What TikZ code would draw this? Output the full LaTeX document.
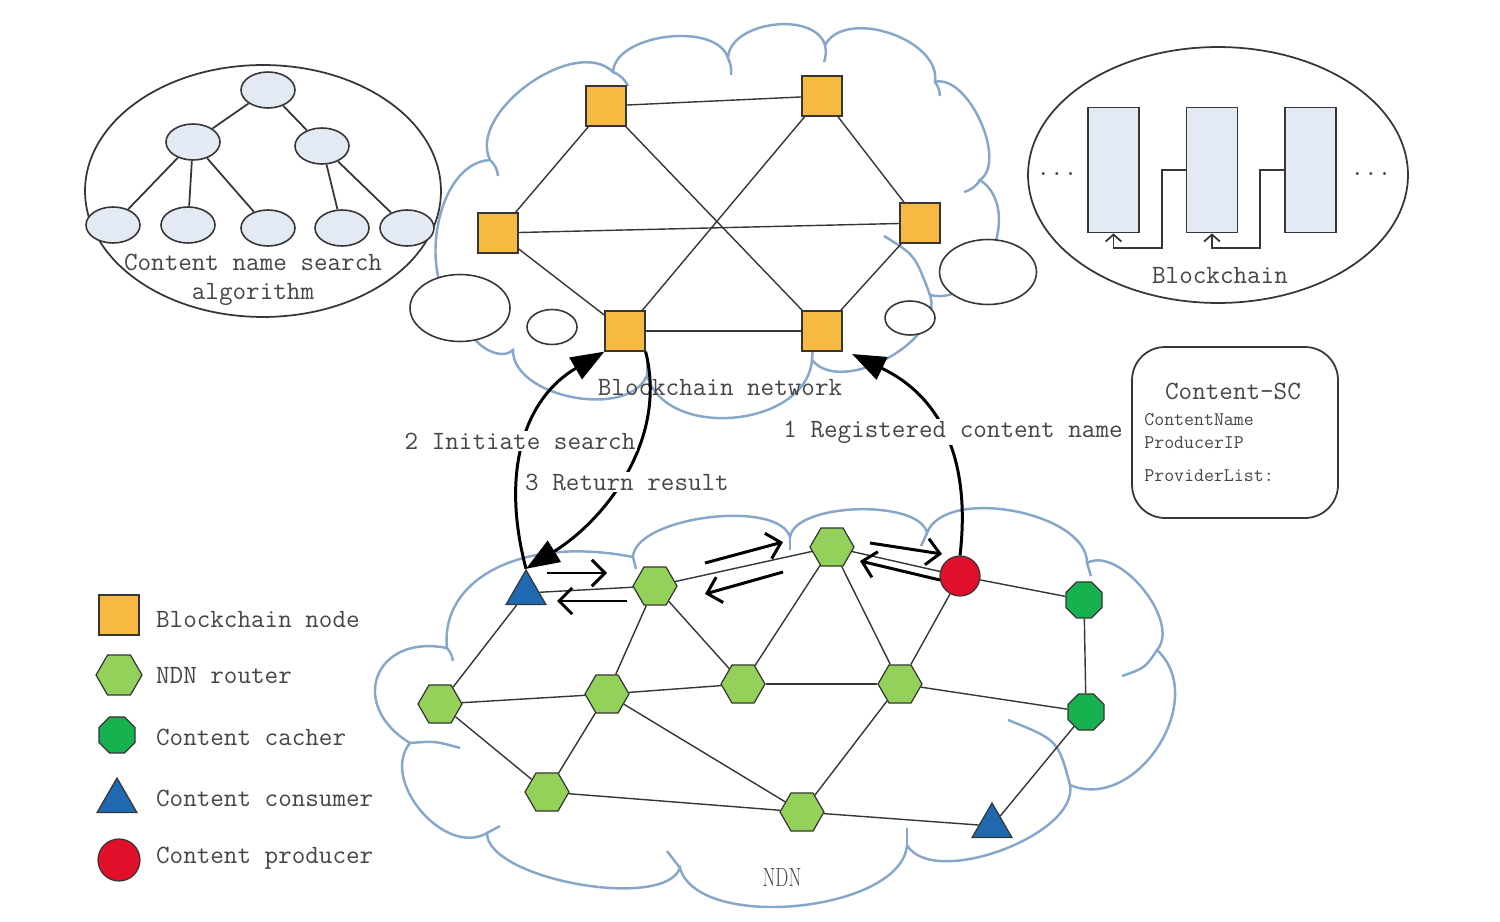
\documentclass[tikz,border=0pt]{standalone}
\usetikzlibrary{shapes.geometric,arrows.meta}
\definecolor{bnode}{HTML}{F6B941}
\definecolor{router}{HTML}{93D15B}
\definecolor{cacher}{HTML}{17B150}
\definecolor{consumer}{HTML}{1F69B1}
\definecolor{producer}{HTML}{E0102B}
\definecolor{cloudc}{HTML}{86A7C9}
\definecolor{lightfill}{HTML}{E3EAF4}
\definecolor{txt}{HTML}{454545}
\definecolor{edgec}{HTML}{363636}
\newcommand{\labfont}{\fontsize{15}{18}\selectfont\ttfamily}
\newcommand{\smallfont}{\fontsize{11}{13}\selectfont\ttfamily}
\begin{document}
\begin{tikzpicture}[x=0.02cm,y=-0.02cm,
  bkn/.style={draw=edgec,fill=bnode,minimum width=0.8cm,minimum height=0.8cm,inner sep=0pt,line width=0.7pt},
  rtr/.style={regular polygon,regular polygon sides=6,draw=edgec,fill=router,minimum size=0.88cm,inner sep=0pt,line width=0.7pt},
  cch/.style={regular polygon,regular polygon sides=8,draw=edgec,fill=cacher,minimum size=0.78cm,inner sep=0pt,line width=0.7pt},
  csm/.style={regular polygon,regular polygon sides=3,draw=edgec,fill=consumer,minimum size=0.92cm,inner sep=0pt,line width=0.7pt},
  prd/.style={circle,draw=edgec,fill=producer,minimum size=0.8cm,inner sep=0pt,line width=0.7pt},
  tre/.style={ellipse,draw=edgec,fill=lightfill,minimum width=1.08cm,minimum height=0.72cm,inner sep=0pt,line width=0.9pt},
  blk/.style={rectangle,draw=edgec,fill=lightfill,minimum width=1.02cm,minimum height=2.5cm,inner sep=0pt,line width=1pt},
  bubble/.style={ellipse,draw=edgec,fill=white,inner sep=0pt,line width=0.9pt},
  bigell/.style={ellipse,draw=edgec,fill=white,inner sep=0pt,line width=1pt},
  lbl/.style={font=\labfont,text=txt,inner sep=1pt},
  sml/.style={font=\smallfont,text=txt,inner sep=0pt,anchor=west},
  ln/.style={draw=edgec,line width=0.8pt},
  tln/.style={draw=edgec,line width=1pt},
  cloudline/.style={draw=cloudc,line width=1.4pt},
  pf/.style={bend left=80,looseness=#1},
  bigarrow/.style={line width=1.7pt,-{Triangle[length=19pt,width=14pt]}},
  flow/.style={line width=1.7pt,-{Straight Barb[length=7.5pt,width=15pt]}},
  chain/.style={draw=edgec,line width=1pt,-{Straight Barb[length=4pt,width=9pt]}},
]
\useasboundingbox (0,0) rectangle (1500,922);

% ---------- top cloud ----------
\coordinate (T0) at (470,318);
\coordinate (T1) at (490,160);
\coordinate (T2) at (613,72);
\coordinate (T3) at (728,58);
\coordinate (T4) at (825,45);
\coordinate (T5) at (935,82);
\coordinate (T6) at (980,180);
\coordinate (T7) at (930,295);
\coordinate (T8) at (812,360);
\coordinate (T9) at (647,375);
\coordinate (T10) at (513,350);
\draw[cloudline] (T0) to[pf=0.95] (T1) to[pf=0.9] (T2) to[pf=0.85] (T3) to[pf=0.95] (T4)
  to[pf=0.95] (T5) to[pf=0.8] (T6) to[pf=1.1] (T7) to[pf=0.9] (T8) to[pf=1.05] (T9)
  to[pf=0.9] (T10) to[pf=1] (T0);
\draw[cloudline] (T1) to[bend left=20] (498,176);
\draw[cloudline] (T2) to[bend left=20] (628,86);
\draw[cloudline] (T3) to[bend left=15] (731,75);
\draw[cloudline] (T4) to[bend left=15] (824,62);
\draw[cloudline] (T5) to[bend left=15] (940,96);
\draw[cloudline] (T6) to[bend left=20] (964,192);
\draw[cloudline] (T7) .. controls (915,255) .. (884,236);
\draw[cloudline] (T8) -- (813,346);
\draw[cloudline] (T9) -- (647,362);

% ---------- NDN cloud ----------
\coordinate (N0) at (447,648);
\coordinate (N1) at (633,557);
\coordinate (N2) at (790,537);
\coordinate (N3) at (927,533);
\coordinate (N4) at (1087,563);
\coordinate (N5) at (1157,650);
\coordinate (N6) at (1070,785);
\coordinate (N7) at (907,845);
\coordinate (N8) at (680,868);
\coordinate (N9) at (487,833);
\coordinate (N10) at (410,743);
\draw[cloudline] (N0) .. controls (440,580) and (520,535) .. (N1) to[pf=0.65] (N2) to[pf=0.65] (N3) to[pf=0.8] (N4)
  to[pf=0.85] (N5) to[pf=1.15] (N6) to[pf=0.75] (N7) to[pf=0.75] (N8) to[pf=0.6] (N9)
  to[pf=1.05] (N10) to[pf=1.85] (N0);
\draw[cloudline] (N0) to[bend left=15] (453,661);
\draw[cloudline] (N1) -- (636,569);
\draw[cloudline] (N2) -- (790,550);
\draw[cloudline] (N3) -- (921,546);
\draw[cloudline] (N4) -- (1091,576);
\draw[cloudline] (N5) .. controls (1145,668) .. (1122,676);
\draw[cloudline] (N6) .. controls (1058,740) .. (1008,720);
\draw[cloudline] (N7) -- (907,828);
\draw[cloudline] (N8) -- (667,851);
\draw[cloudline] (N9) -- (500,826);
\draw[cloudline] (N10) .. controls (435,741) .. (460,748);

% ---------- content name search ellipse ----------
\node[bigell,minimum width=7.12cm,minimum height=5.04cm] (E1) at (263,191) {};
\node[tre] (r0) at (268,90) {};
\node[tre] (r1) at (193,142) {};
\node[tre] (r2) at (322,146) {};
\node[tre] (l1) at (113,225) {};
\node[tre] (l2) at (188,225) {};
\node[tre] (l3) at (268,228) {};
\node[tre] (l4) at (342,228) {};
\node[tre] (l5) at (407,228) {};
\draw[tln] (r0) -- (r1);
\draw[tln] (r0) -- (r2);
\draw[tln] (r1) -- (l1);
\draw[tln] (r1) -- (l2);
\draw[tln] (r1) -- (l3);
\draw[tln] (r2) -- (l4);
\draw[tln] (r2) -- (l5);
\node[lbl] (t1) at (253,262) {Content name search};
\node[lbl] (t2) at (253,294) {algorithm};

% ---------- blockchain ellipse ----------
\node[bigell,minimum width=7.6cm,minimum height=5.12cm] (E2) at (1218,175) {};
\node[blk] (K1) at (1113.5,170) {};
\node[blk] (K2) at (1212,170) {};
\node[blk] (K3) at (1310.5,170) {};
\draw[chain] (K2.west) -- ++(-24,0) -- ++(0,78) -| (K1.south);
\draw[chain] (K3.west) -- ++(-24,0) -- ++(0,78) -| (K2.south);
\node[lbl,anchor=base] (d1) at (1057,176) {...};
\node[lbl,anchor=base] (d2) at (1371,176) {...};
\node[lbl] (t3) at (1220,276) {Blockchain};

% ---------- thought bubbles ----------
\node[bubble,minimum width=2cm,minimum height=1.34cm] (W1) at (460,308) {};
\node[bubble,minimum width=1cm,minimum height=0.7cm] (W2) at (552,327) {};
\node[bubble,minimum width=1.94cm,minimum height=1.3cm] (W3) at (988,272) {};
\node[bubble,minimum width=1cm,minimum height=0.68cm] (W4) at (910,318) {};

% ---------- blockchain network ----------
\node[bkn] (B1) at (606,106) {};
\node[bkn] (B2) at (822,96) {};
\node[bkn] (B3) at (498,233) {};
\node[bkn] (B4) at (920,223) {};
\node[bkn] (B5) at (625,331) {};
\node[bkn] (B6) at (822,331) {};
\draw[ln] (B1) -- (B2);
\draw[ln] (B1) -- (B3);
\draw[ln] (B1) -- (B6);
\draw[ln] (B2) -- (B5);
\draw[ln] (B2) -- (B4);
\draw[ln] (B3) -- (B4);
\draw[ln] (B3) -- (B5);
\draw[ln] (B4) -- (B6);
\draw[ln] (B5) -- (B6);
\node[lbl] (t4) at (720,388) {Blockchain network};

% ---------- Content-SC ----------
\node[draw=edgec,line width=1pt,rounded corners=0.66cm,minimum width=4.12cm,minimum height=3.42cm] (SC) at (1235,432.5) {};
\node[lbl] (s0) at (1233,391) {Content-SC};
\node[sml] (s1) at (1144,420) {ContentName};
\node[sml] (s2) at (1144,443) {ProducerIP};
\node[sml] (s3) at (1144,476) {ProviderList:};

% ---------- NDN ----------
\node[csm] (C1) at (526,593) {};
\node[rtr] (R1) at (655,586) {};
\node[rtr] (R2) at (832,547) {};
\node[prd] (P) at (960,576) {};
\node[cch] (G1) at (1084,600) {};
\node[cch] (G2) at (1086,712) {};
\node[rtr] (R3) at (440,704) {};
\node[rtr] (R4) at (607,694) {};
\node[rtr] (R5) at (743,684) {};
\node[rtr] (R6) at (900,684) {};
\node[rtr] (R7) at (547,792) {};
\node[rtr] (R8) at (802,812) {};
\node[csm] (C2) at (992,826) {};
\draw[ln] (C1) -- (R1);
\draw[ln] (R1) -- (R2);
\draw[ln] (R2) -- (P);
\draw[ln] (P) -- (G1);
\draw[ln] (G1) -- (G2);
\draw[ln] (C1) -- (R3);
\draw[ln] (R1) -- (R4);
\draw[ln] (R1) -- (R5);
\draw[ln] (R2) -- (R5);
\draw[ln] (R2) -- (R6);
\draw[ln] (P) -- (R6);
\draw[ln] (R3) -- (R4);
\draw[ln] (R4) -- (R5);
\draw[ln] (R5) -- (R6);
\draw[ln] (R6) -- (G2);
\draw[ln] (R3) -- (R7);
\draw[ln] (R4) -- (R7);
\draw[ln] (R4) -- (R8);
\draw[ln] (R7) -- (R8);
\draw[ln] (R6) -- (R8);
\draw[ln] (R8) -- (C2);
\draw[ln] (C2) -- (G2);
\node[text=txt,font=\fontsize{15}{18}\selectfont] (tn) at (782,877) {\scalebox{0.7}[1]{NDN}};

% flow arrows
\coordinate (fa1) at (547,573); \coordinate (fa2) at (607,573);
\coordinate (fb1) at (627,601); \coordinate (fb2) at (557,601);
\coordinate (fc1) at (705,563); \coordinate (fc2) at (783,542);
\coordinate (fd1) at (783,572); \coordinate (fd2) at (705,594);
\coordinate (fe1) at (870,543); \coordinate (fe2) at (942,554);
\coordinate (ff1) at (940,580); \coordinate (ff2) at (860,561);
\draw[flow] (fa1) -- (fa2);
\draw[flow] (fb1) -- (fb2);
\draw[flow] (fc1) -- (fc2);
\draw[flow] (fd1) -- (fd2);
\draw[flow] (fe1) -- (fe2);
\draw[flow] (ff1) -- (ff2);

% ---------- big arrows ----------
\coordinate (A1end) at (852,354);
\draw[bigarrow] (P.north) .. controls (970,470) and (948,400) .. (A1end);
\draw[bigarrow] (C1.north) .. controls (500,470) and (525,398) .. (B5.south west);
\draw[bigarrow] (B5.south east) .. controls (668,440) and (605,520) .. (C1.north);
\node[lbl,fill=white] (a2) at (520,441) {2 Initiate search};
\node[lbl,fill=white] (a3) at (627,482) {3 Return result};
\node[lbl,fill=white] (a1) at (953,432) {1 Registered content name};

% ---------- legend ----------
\node[bkn] (LG1) at (119,615) {};
\node[rtr,minimum size=0.92cm] (LG2) at (119,675) {};
\node[cch] (LG3) at (117,735) {};
\node[csm] (LG4) at (117,801) {};
\node[prd,minimum size=0.84cm] (LG5) at (119,860) {};
\node[lbl,anchor=west] (g1) at (154,620) {Blockchain node};
\node[lbl,anchor=west] (g2) at (154,676) {NDN router};
\node[lbl,anchor=west] (g3) at (154,737) {Content cacher};
\node[lbl,anchor=west] (g4) at (154,798) {Content consumer};
\node[lbl,anchor=west] (g5) at (154,858) {Content producer};
\end{tikzpicture}
\end{document}
